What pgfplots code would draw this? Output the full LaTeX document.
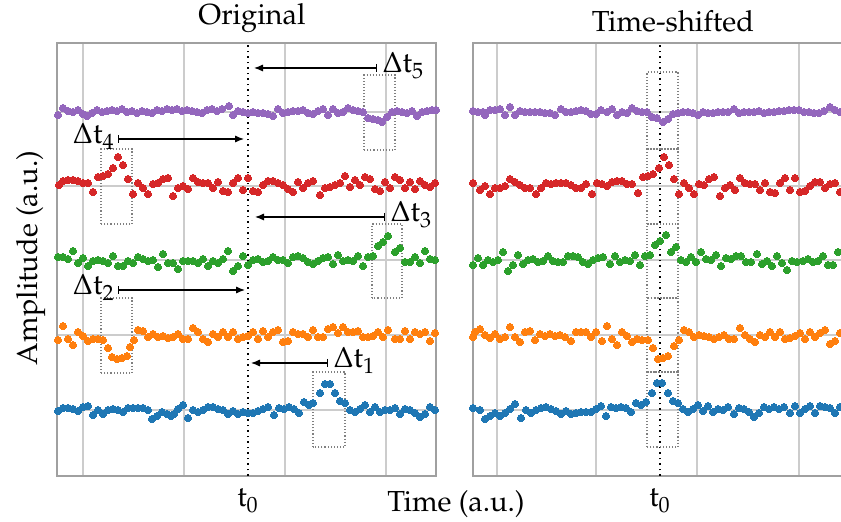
\documentclass[border=0pt]{standalone}
\usepackage[T1]{fontenc}
\usepackage{mathpazo}
\usepackage{pgfplots}
\usepackage{pgfplotstable}
\pgfplotsset{compat=1.18}
\usetikzlibrary{arrows.meta}
\definecolor{tabblue}{HTML}{1F77B4}
\definecolor{taborange}{HTML}{FF7F0E}
\definecolor{tabgreen}{HTML}{2CA02C}
\definecolor{tabred}{HTML}{D62728}
\definecolor{tabpurple}{HTML}{9467BD}
\definecolor{gridc}{RGB}{204,204,204}
\definecolor{spinec}{RGB}{160,160,160}
\definecolor{boxc}{RGB}{128,128,128}

% ---- Original panel: x (px), offset from baseline (px) ----
\pgfplotstableread[row sep=\\]{x o\\
58 -1\\ 63 2\\ 68 2\\ 73 1\\ 78 -1\\ 83 3\\ 88 4\\ 93 -5\\ 98 0\\ 103 -4\\ 108 0\\ 113 1\\ 118 0\\ 123 -2\\ 128 2\\ 133 2\\ 138 2\\ 143 2\\ 148 0\\ 152 -9\\ 157 -6\\ 162 -2\\ 167 -4\\ 171 -6\\ 174 -4\\ 178 1\\ 183 5\\ 188 -8\\ 193 0\\ 198 -2\\ 203 0\\ 208 3\\ 213 3\\ 218 1\\ 223 0\\ 228 -4\\ 233 -1\\ 238 -4\\ 243 -2\\ 248 -3\\ 253 -3\\ 258 -1\\ 263 1\\ 268 3\\ 274 -5\\ 279 2\\ 284 1\\ 289 3\\ 294 1\\ 299 -3\\ 304 8\\ 309 5\\ 313 7\\ 320 17\\ 325 26\\ 330 26\\ 335 17\\ 340 9\\ 345 7\\ 350 0\\ 355 -2\\ 360 1\\ 365 5\\ 370 -2\\ 375 3\\ 380 -2\\ 385 0\\ 390 0\\ 395 2\\ 400 -4\\ 405 1\\ 410 0\\ 415 -3\\ 420 -7\\ 425 -4\\ 430 3\\ 435 0\\
}\blueL
\pgfplotstableread[row sep=\\]{x o\\
58 -5\\ 63 9\\ 68 -4\\ 73 -10\\ 78 3\\ 83 -1\\ 88 -6\\ 93 -4\\ 98 -4\\ 103 -5\\ 108 -13\\ 112 -22\\ 117 -24\\ 122 -23\\ 127 -21\\ 130 -12\\ 134 -5\\ 138 5\\ 143 4\\ 148 -2\\ 153 1\\ 158 -2\\ 163 -1\\ 168 -3\\ 173 -2\\ 178 1\\ 183 -4\\ 188 -4\\ 193 7\\ 198 3\\ 203 -4\\ 208 -7\\ 213 1\\ 218 -2\\ 223 3\\ 228 -2\\ 233 3\\ 238 -4\\ 243 -2\\ 248 -1\\ 253 3\\ 258 -4\\ 263 4\\ 268 -2\\ 273 3\\ 278 5\\ 283 -7\\ 288 -6\\ 293 3\\ 298 1\\ 303 1\\ 308 -2\\ 313 5\\ 318 -2\\ 323 -2\\ 328 6\\ 333 8\\ 338 2\\ 343 8\\ 348 3\\ 353 3\\ 358 4\\ 363 -2\\ 368 -2\\ 373 -1\\ 378 3\\ 383 -2\\ 388 5\\ 395 -4\\ 400 -4\\ 405 4\\ 410 -4\\ 415 3\\ 420 1\\ 425 3\\ 430 -6\\ 435 2\\
}\orangeL
\pgfplotstableread[row sep=\\]{x o\\
58 3\\ 63 3\\ 68 1\\ 73 9\\ 78 -3\\ 83 2\\ 88 -6\\ 93 -1\\ 98 0\\ 103 -1\\ 108 -3\\ 113 4\\ 118 -6\\ 123 -6\\ 128 -1\\ 133 -3\\ 138 3\\ 143 1\\ 148 -1\\ 153 0\\ 158 -7\\ 163 6\\ 168 -3\\ 173 -3\\ 178 -9\\ 183 -1\\ 188 -1\\ 193 -1\\ 198 -3\\ 203 1\\ 208 -6\\ 213 -1\\ 218 -3\\ 223 1\\ 228 9\\ 233 -11\\ 238 -6\\ 243 4\\ 248 -5\\ 253 0\\ 258 1\\ 263 -2\\ 268 -1\\ 273 3\\ 278 0\\ 283 0\\ 288 -3\\ 293 3\\ 298 4\\ 303 2\\ 308 -2\\ 313 -4\\ 318 -1\\ 323 2\\ 328 3\\ 333 -4\\ 338 5\\ 343 -1\\ 348 0\\ 353 -1\\ 358 4\\ 363 -6\\ 368 3\\ 373 4\\ 378 14\\ 383 18\\ 388 24\\ 395 8\\ 400 12\\ 405 -2\\ 410 -2\\ 415 3\\ 420 -3\\ 425 9\\ 430 1\\ 435 0\\
}\greenL
\pgfplotstableread[row sep=\\]{x o\\
59 1\\ 63 5\\ 68 6\\ 73 6\\ 78 5\\ 83 3\\ 88 3\\ 93 -6\\ 98 9\\ 103 10\\ 108 12\\ 113 18\\ 118 29\\ 123 21\\ 128 7\\ 133 -8\\ 138 3\\ 143 -2\\ 148 -8\\ 153 2\\ 158 3\\ 163 7\\ 168 8\\ 173 -10\\ 178 -2\\ 183 0\\ 188 -3\\ 193 8\\ 198 4\\ 203 3\\ 208 3\\ 213 -2\\ 218 4\\ 223 -5\\ 228 -6\\ 233 3\\ 238 8\\ 243 -4\\ 248 8\\ 253 -5\\ 258 -6\\ 263 1\\ 268 5\\ 273 5\\ 278 3\\ 283 1\\ 288 -3\\ 293 -6\\ 298 4\\ 303 -2\\ 308 3\\ 313 5\\ 320 -9\\ 325 -2\\ 330 -1\\ 335 1\\ 340 3\\ 345 10\\ 350 -1\\ 355 6\\ 360 1\\ 365 9\\ 370 7\\ 375 -3\\ 380 -5\\ 385 4\\ 390 -2\\ 395 9\\ 400 6\\ 405 -2\\ 410 4\\ 415 -3\\ 420 5\\ 425 1\\ 430 -1\\ 435 3\\
}\redL
\pgfplotstableread[row sep=\\]{x o\\
58 -3\\ 63 4\\ 68 1\\ 73 0\\ 78 2\\ 83 -2\\ 87 -4\\ 92 -1\\ 97 2\\ 102 0\\ 107 1\\ 112 2\\ 117 1\\ 122 3\\ 127 0\\ 132 1\\ 137 -1\\ 142 1\\ 147 0\\ 152 -1\\ 157 2\\ 162 1\\ 167 3\\ 172 2\\ 177 3\\ 182 1\\ 187 2\\ 192 1\\ 197 0\\ 202 -1\\ 207 2\\ 212 3\\ 217 1\\ 222 3\\ 229 6\\ 233 -3\\ 238 1\\ 243 0\\ 248 -1\\ 253 0\\ 258 -1\\ 263 -1\\ 268 -2\\ 273 -4\\ 278 3\\ 283 -1\\ 288 0\\ 293 1\\ 298 1\\ 303 2\\ 308 -1\\ 313 -2\\ 318 1\\ 323 3\\ 328 -3\\ 333 3\\ 338 -1\\ 343 0\\ 348 4\\ 353 2\\ 358 1\\ 363 0\\ 368 -6\\ 373 -7\\ 378 -8\\ 382 -10\\ 387 -5\\ 392 0\\ 397 1\\ 402 0\\ 407 -1\\ 412 1\\ 417 -4\\ 422 0\\ 427 1\\ 432 2\\ 436 2\\
}\purpleL

% ---- Time-shifted panel ----
\pgfplotstableread[row sep=\\]{x o\\
473 2\\ 480 0\\ 485 -9\\ 490 -6\\ 495 -3\\ 500 -6\\ 505 -3\\ 510 1\\ 515 6\\ 521 -8\\ 526 0\\ 531 -3\\ 536 0\\ 541 2\\ 546 3\\ 551 1\\ 556 -1\\ 561 -4\\ 566 -1\\ 571 -4\\ 576 -3\\ 581 -2\\ 586 -2\\ 591 -2\\ 596 1\\ 601 4\\ 606 -6\\ 611 3\\ 616 2\\ 621 3\\ 626 2\\ 631 -2\\ 636 7\\ 641 5\\ 646 8\\ 652 17\\ 657 27\\ 662 27\\ 668 17\\ 673 9\\ 678 7\\ 683 1\\ 688 -2\\ 693 1\\ 698 5\\ 703 -1\\ 708 4\\ 713 -2\\ 718 1\\ 723 0\\ 728 3\\ 734 -4\\ 739 2\\ 744 1\\ 749 -2\\ 754 -7\\ 759 -3\\ 764 3\\ 769 1\\ 774 3\\ 779 1\\ 784 3\\ 790 -3\\ 795 4\\ 800 -3\\ 805 1\\ 810 4\\ 815 -3\\ 820 4\\ 825 3\\ 830 2\\ 835 -3\\ 840 3\\
}\blueR
\pgfplotstableread[row sep=\\]{x o\\
473 -2\\ 475 3\\ 480 6\\ 485 0\\ 490 -3\\ 495 1\\ 500 -4\\ 505 -2\\ 510 8\\ 515 -2\\ 520 -7\\ 525 3\\ 530 4\\ 535 -5\\ 540 1\\ 545 -1\\ 550 1\\ 555 -1\\ 560 0\\ 565 -2\\ 571 -6\\ 576 3\\ 581 3\\ 586 3\\ 591 -2\\ 596 3\\ 602 -6\\ 607 9\\ 612 -4\\ 617 -10\\ 622 3\\ 627 -1\\ 632 -7\\ 637 -4\\ 642 -5\\ 648 -5\\ 653 -13\\ 658 -24\\ 663 -23\\ 668 -21\\ 674 -11\\ 679 -5\\ 684 5\\ 689 3\\ 694 -2\\ 699 0\\ 704 -1\\ 709 -2\\ 714 -4\\ 719 -2\\ 724 0\\ 729 -4\\ 734 -4\\ 740 7\\ 745 0\\ 750 -4\\ 755 -7\\ 760 0\\ 765 -2\\ 770 3\\ 775 -2\\ 780 3\\ 785 -4\\ 790 -3\\ 795 -1\\ 800 2\\ 805 -4\\ 810 3\\ 815 -2\\ 820 2\\ 825 5\\ 830 -9\\ 835 -6\\ 840 2\\
}\orangeR
\pgfplotstableread[row sep=\\]{x o\\
473 -5\\ 478 2\\ 483 -5\\ 488 0\\ 493 -2\\ 498 0\\ 503 8\\ 508 -11\\ 513 -5\\ 518 5\\ 523 -4\\ 528 0\\ 533 1\\ 538 -2\\ 543 -1\\ 548 4\\ 553 -1\\ 558 -2\\ 563 -2\\ 568 4\\ 573 4\\ 578 3\\ 583 -2\\ 588 -4\\ 593 0\\ 598 2\\ 603 3\\ 610 -4\\ 615 4\\ 620 -2\\ 625 0\\ 630 -1\\ 635 5\\ 640 -5\\ 645 4\\ 650 5\\ 655 15\\ 660 19\\ 666 25\\ 671 8\\ 676 13\\ 681 0\\ 686 -2\\ 691 3\\ 696 -2\\ 701 8\\ 706 1\\ 711 0\\ 716 5\\ 721 -6\\ 726 2\\ 731 1\\ 736 4\\ 741 4\\ 746 -2\\ 751 -2\\ 757 6\\ 762 -4\\ 767 -1\\ 772 -6\\ 777 4\\ 782 -3\\ 787 -10\\ 792 -1\\ 797 -2\\ 803 -1\\ 808 1\\ 813 -2\\ 818 -1\\ 823 4\\ 828 -5\\ 833 -5\\ 838 8\\
}\greenR
\pgfplotstableread[row sep=\\]{x o\\
473 3\\ 480 -4\\ 485 0\\ 490 -8\\ 495 -2\\ 500 -2\\ 505 0\\ 510 7\\ 515 4\\ 520 1\\ 525 -2\\ 530 -2\\ 536 -8\\ 541 -2\\ 546 3\\ 551 2\\ 556 3\\ 561 3\\ 566 3\\ 571 1\\ 576 -2\\ 581 -2\\ 586 2\\ 592 -8\\ 597 3\\ 602 2\\ 607 0\\ 612 4\\ 617 5\\ 622 5\\ 627 2\\ 632 2\\ 638 -7\\ 643 9\\ 648 10\\ 653 12\\ 659 18\\ 664 29\\ 669 21\\ 674 7\\ 679 -8\\ 684 3\\ 689 -2\\ 694 -8\\ 699 2\\ 704 1\\ 709 7\\ 714 9\\ 720 -10\\ 725 -2\\ 730 1\\ 735 -4\\ 740 8\\ 745 3\\ 750 2\\ 755 2\\ 760 -4\\ 765 3\\ 770 -6\\ 775 -7\\ 780 3\\ 785 8\\ 790 -4\\ 795 8\\ 800 -6\\ 805 -5\\ 810 0\\ 815 4\\ 820 4\\ 825 -2\\ 830 2\\ 835 3\\ 840 -6\\
}\redR
\pgfplotstableread[row sep=\\]{x o\\
473 1\\ 478 0\\ 483 0\\ 485 -3\\ 490 2\\ 495 2\\ 500 3\\ 505 -3\\ 510 5\\ 515 -3\\ 520 1\\ 525 0\\ 530 0\\ 535 0\\ 540 0\\ 545 -1\\ 550 -1\\ 555 -3\\ 561 3\\ 566 0\\ 571 0\\ 576 1\\ 581 2\\ 586 1\\ 591 -2\\ 596 -2\\ 601 2\\ 607 0\\ 612 3\\ 617 -3\\ 622 0\\ 627 -1\\ 632 4\\ 637 1\\ 642 0\\ 647 0\\ 652 -5\\ 657 -6\\ 663 -10\\ 668 -7\\ 673 -2\\ 678 -1\\ 683 0\\ 688 0\\ 693 -1\\ 698 -3\\ 703 0\\ 708 -1\\ 713 -1\\ 718 0\\ 723 0\\ 728 0\\ 734 3\\ 739 -1\\ 744 0\\ 749 0\\ 754 0\\ 759 1\\ 764 -1\\ 769 0\\ 774 0\\ 779 1\\ 784 1\\ 789 2\\ 794 2\\ 799 2\\ 804 0\\ 809 0\\ 814 -1\\ 819 -1\\ 824 1\\ 830 5\\ 835 2\\ 840 0\\
}\purpleR

\pgfplotsset{
  panel/.style={
    scale only axis, width=189.5pt, height=216.5pt,
    ymin=0, ymax=433,
    ytick={66,141,216,290,364}, yticklabels={},
    xticklabels={},
    grid=major,
    major grid style={color=gridc, line width=0.75pt},
    axis line style={color=spinec, line width=0.9pt},
    major tick length=0pt,
    extra x tick style={grid=major, major grid style={black, dotted, line width=0.8pt},
      major tick length=0pt,
      xticklabel style={anchor=base, yshift=-15.5pt, font=\fontsize{14.5}{17}\selectfont}},
  },
  pts/.style={only marks, mark=*, mark size=1.8pt, color=#1, mark options={line width=0pt}},
}
\tikzset{
  dbox/.style={draw=boxc, densely dotted, line width=0.55pt},
  dt/.style={{Bar[width=4pt]}-{Latex[length=4.5pt,width=3.6pt]}, line width=0.6pt, black},
  dtl/.style={font=\fontsize{14.5}{17}\selectfont, inner sep=0pt},
}

\begin{document}
\begin{tikzpicture}
\begin{axis}[panel, name=L, at={(0pt,0pt)}, anchor=south west,
  xmin=57, xmax=436, xtick={83,184,285,386},
  extra x ticks={248}, extra x tick labels={$\mathrm{t}_0$}]
\addplot[pts=tabblue] table[x=x, y expr=\thisrow{o}+66] {\blueL};
\addplot[pts=taborange] table[x=x, y expr=\thisrow{o}+141] {\orangeL};
\addplot[pts=tabgreen] table[x=x, y expr=\thisrow{o}+216] {\greenL};
\addplot[pts=tabred] table[x=x, y expr=\thisrow{o}+290] {\redL};
\addplot[pts=tabpurple] table[x=x, y expr=\thisrow{o}+364] {\purpleL};
\draw[dbox] (364,326) rectangle (395,401);
\draw[dbox] (101,252) rectangle (132,327);
\draw[dbox] (372,178) rectangle (402,252);
\draw[dbox] (101,103) rectangle (132,178);
\draw[dbox] (313,29) rectangle (345,104);
\draw[dt] (377,408) -- (254,408);
\node[dtl, anchor=base west] at (382,403) {$\Delta\mathrm{t}_5$};
\draw[dt] (118,337) -- (244,337);
\node[dtl, anchor=base east] at (115,332) {$\Delta\mathrm{t}_4$};
\draw[dt] (385,259) -- (255,259);
\node[dtl, anchor=base west] at (390,254) {$\Delta\mathrm{t}_3$};
\draw[dt] (118,186) -- (245,186);
\node[dtl, anchor=base east] at (115,181) {$\Delta\mathrm{t}_2$};
\draw[dt] (328,113) -- (251,113);
\node[dtl, anchor=base west] at (333,108) {$\Delta\mathrm{t}_1$};
\end{axis}
\begin{axis}[panel, name=R, at={(208pt,0pt)}, anchor=south west,
  xmin=473, xmax=852, xtick={497,596,697,799},
  extra x ticks={660}, extra x tick labels={$\mathrm{t}_0$}]
\addplot[pts=tabblue] table[x=x, y expr=\thisrow{o}+66] {\blueR};
\addplot[pts=taborange] table[x=x, y expr=\thisrow{o}+141] {\orangeR};
\addplot[pts=tabgreen] table[x=x, y expr=\thisrow{o}+216] {\greenR};
\addplot[pts=tabred] table[x=x, y expr=\thisrow{o}+290] {\redR};
\addplot[pts=tabpurple] table[x=x, y expr=\thisrow{o}+364] {\purpleR};
\draw[dbox] (647,29) rectangle (678,104);
\draw[dbox] (647,104) rectangle (678,178);
\draw[dbox] (647,178) rectangle (678,252);
\draw[dbox] (647,252) rectangle (678,327);
\draw[dbox] (647,327) rectangle (678,404);
\end{axis}
\begin{scope}[font=\fontsize{14.5}{17}\selectfont]
\node[anchor=base] at (97.5pt,225.5pt) {Original};
\node[anchor=base] at (308pt,222pt) {Time-shifted};
\node[anchor=base] at (199.5pt,-18pt) {Time (a.u.)};
\node[anchor=base, rotate=90] at (-10pt,109pt) {Amplitude (a.u.)};
\end{scope}
\pgfresetboundingbox
\useasboundingbox (-28.5pt,-23pt) rectangle (392pt,238pt);
\end{tikzpicture}
\end{document}
